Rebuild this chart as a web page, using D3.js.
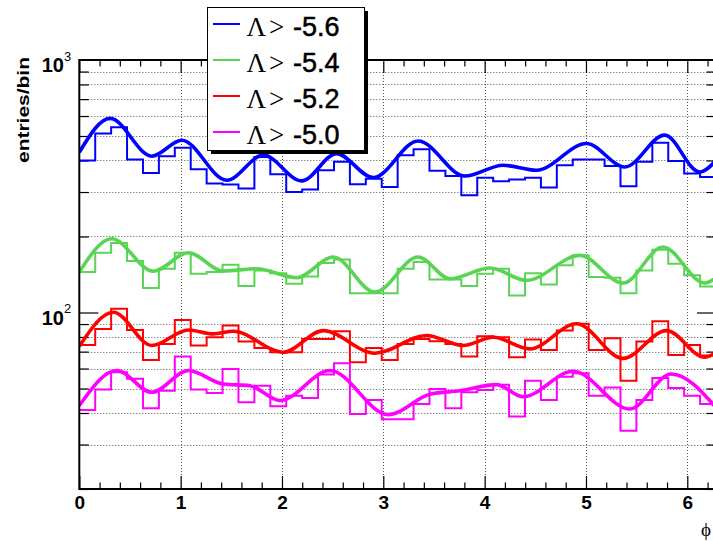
<!DOCTYPE html>
<html><head><meta charset="utf-8">
<script src="https://cdn.jsdelivr.net/npm/d3@7"></script>
<style>body{margin:0;background:#fff;} svg{display:block;}</style>
</head><body>
<svg id="c" width="713" height="541"></svg>
<script>
// ---- data ----
const nBins = 40;
const phiMax = 2 * Math.PI;
const xTickValues = [0, 1, 2, 3, 4, 5, 6];
const yLabelTicks = [100, 1000];
const seriesNames = ["Λ > -5.6", "Λ > -5.4", "Λ > -5.2", "Λ > -5.0"];
const seriesCuts = ["-5.6", "-5.4", "-5.2", "-5.0"];
const seriesColors = ["#0000ff", "#59d454", "#ff0000", "#ff00ff"];

const blueHist = [400,512,541,404,357,416,449,369,324,321,310,413,353,300,307,366,395,322,339,314,
                  420,443,364,347,291,342,331,336,342,313,383,404,404,380,316,395,470,398,355,344];
const greenHist = [144.6,172.5,188.5,159.8,124.9,149.1,172.5,142.4,144.6,154.6,127.2,146.8,143.2,130.0,139.0,157.0,162.3,119.3,119.3,119.3,
                   149.1,158.5,135.2,135.2,127.2,142.4,149.1,116.8,143.2,129.2,153.7,168.4,138.1,137.3,119.3,146.8,177.3,156.1,140.3,126.8];
const redHist = [74.4,86.1,103.4,85.3,64.9,75.1,93.5,74.0,79.8,88.8,76.7,72.4,69.6,69.6,78.6,78.6,84.3,63.5,72.4,64.9,
                 75.1,78.6,76.9,75.1,66.9,80.6,79.8,66.5,78.1,71.1,84.8,90.2,71.1,79.1,53.7,76.7,92.4,67.9,74.4,67.5];
const magHist = [41.1,49.5,58.0,54.6,41.8,49.0,66.9,49.5,48.0,59.8,44.1,51.3,42.5,46.8,45.9,56.8,62.9,39.6,45.0,37.8,
                 37.8,43.4,49.8,41.8,48.3,49.3,51.8,38.7,53.7,45.0,55.7,57.5,46.8,50.5,34.0,45.0,55.0,50.2,46.8,43.4];

const blueCurvePhi = [0,0.304,0.715,1.011,1.455,1.816,2.194,2.539,2.900,3.344,3.805,4.182,4.512,5.005,5.383,5.777,6.122,6.283];
const blueCurveVal = [431,587,416,481,334,420,332,426,342,478,347,383,366,467,377,504,360,400];
const greenCurvePhi = [0,0.320,0.731,1.076,1.42,1.75,2.145,2.506,2.917,3.344,3.657,4.051,4.413,4.939,5.366,5.760,6.172,6.283];
const greenCurveVal = [144.6,196,145.6,172.5,146,149,137.3,166,120.4,166,136,150,134,168.4,130.8,181.7,130.8,137];
const redCurvePhi = [0,0.336,0.715,1.076,1.323,1.52,2.013,2.407,2.917,3.427,3.788,4.084,4.446,4.906,5.366,5.794,6.172,6.283];
const redCurveVal = [73.5,100.3,74.0,85.3,82.3,84.3,69.6,84.8,69.0,81.1,74.0,79.8,71.8,90.2,65.8,84.8,66.5,69.5];
const magCurvePhi = [0,0.370,0.715,1.076,1.42,1.684,1.980,2.473,3.05,3.46,3.755,4.117,4.38,4.873,5.432,5.843,6.283];
const magCurveVal = [42.8,58.9,48.3,58.9,52.1,51.3,44.8,58.9,39.4,47.5,49.0,51.8,46.4,58.5,41.5,57.1,42];

const hists = [blueHist, greenHist, redHist, magHist];
const curves = [[blueCurvePhi, blueCurveVal],[greenCurvePhi, greenCurveVal],[redCurvePhi, redCurveVal],[magCurvePhi, magCurveVal]];

// ---- layout ----
const L = 79.3, R = 716, T = 60, B = 489;
const svg = d3.select("#c");
const x = d3.scaleLinear().domain([0, phiMax]).range([L, R]);
const y = d3.scaleLog().domain([20, 1000]).range([B, T]);

const yTicksAll = [];
[10, 100].forEach(d => { for (let k = 2; k <= 9; k++) { const v = d * k; if (v >= 20) yTicksAll.push(v); } });
const yMinor = yTicksAll.filter(v => v !== 100);
const yMajor = [100];
const xMinor = d3.range(0, 6.3, 0.2).filter(v => Math.abs(v - Math.round(v)) > 1e-6);

svg.append("defs").append("clipPath").attr("id", "clip")
  .append("rect").attr("x", L).attr("y", T).attr("width", R - L).attr("height", B - T);

// grid
const grid = svg.append("g").attr("stroke", "#555").attr("stroke-width", 1).attr("stroke-dasharray", "1,2");
grid.selectAll("line.v").data([1,2,3,4,5,6]).join("line")
  .attr("x1", d => Math.round(x(d)) + 0.5).attr("x2", d => Math.round(x(d)) + 0.5).attr("y1", T).attr("y2", B);
grid.selectAll("line.h").data(yTicksAll).join("line")
  .attr("y1", d => Math.round(y(d)) + 0.5).attr("y2", d => Math.round(y(d)) + 0.5).attr("x1", L).attr("x2", R);

// axes ticks
function styleAxis(g) { g.select(".domain").remove(); g.selectAll(".tick line").attr("stroke", "#000").attr("stroke-width", 1.2); }
svg.append("g").attr("transform", `translate(0,${B})`)
  .call(d3.axisBottom(x).tickValues(xTickValues).tickSizeInner(-13).tickSizeOuter(0).tickPadding(7).tickFormat(d3.format("d")))
  .call(styleAxis)
  .call(g => g.selectAll("text").attr("font-family", "Liberation Sans, Arial, sans-serif").attr("font-weight", "bold").attr("font-size", 19).attr("fill", "#000"));
svg.append("g").attr("transform", `translate(0,${B})`)
  .call(d3.axisBottom(x).tickValues(xMinor).tickSizeInner(-6.5).tickSizeOuter(0).tickFormat(""))
  .call(styleAxis);
svg.append("g").attr("transform", `translate(0,${T})`)
  .call(d3.axisTop(x).tickValues(xTickValues).tickSizeInner(-13).tickSizeOuter(0).tickFormat(""))
  .call(styleAxis);
svg.append("g").attr("transform", `translate(0,${T})`)
  .call(d3.axisTop(x).tickValues(xMinor).tickSizeInner(-6.5).tickSizeOuter(0).tickFormat(""))
  .call(styleAxis);
svg.append("g").attr("transform", `translate(${L},0)`)
  .call(d3.axisLeft(y).tickValues(yMajor).tickSizeInner(-19).tickSizeOuter(0).tickFormat(""))
  .call(styleAxis);
svg.append("g").attr("transform", `translate(${L},0)`)
  .call(d3.axisLeft(y).tickValues(yMinor).tickSizeInner(-9.5).tickSizeOuter(0).tickFormat(""))
  .call(styleAxis);
svg.append("g").attr("transform", `translate(${R},0)`)
  .call(d3.axisRight(y).tickValues(yMajor).tickSizeInner(-19).tickSizeOuter(0).tickFormat(""))
  .call(styleAxis);
svg.append("g").attr("transform", `translate(${R},0)`)
  .call(d3.axisRight(y).tickValues(yMinor).tickSizeInner(-9.5).tickSizeOuter(0).tickFormat(""))
  .call(styleAxis);

// y labels 10^n
yLabelTicks.forEach(v => {
  const yy = y(v);
  svg.append("text").attr("x", 64).attr("y", yy + 12).attr("text-anchor", "end")
    .attr("font-family", "Liberation Sans, Arial, sans-serif").attr("font-weight", "bold").attr("font-size", 20).text("10");
  svg.append("text").attr("x", 64).attr("y", yy + 0.5)
    .attr("font-family", "Liberation Sans, Arial, sans-serif").attr("font-size", 13).text(String(Math.round(Math.log10(v))));
});

// plot content
const plot = svg.append("g").attr("clip-path", "url(#clip)");
const binW = phiMax / nBins;
const stepLine = d3.line().x(d => x(d[0])).y(d => y(d[1])).curve(d3.curveStepAfter);
const smooth = d3.line().x(d => x(d[0])).y(d => y(d[1])).curve(d3.curveMonotoneX);
hists.forEach((h, i) => {
  const pts = h.map((v, k) => [k * binW, v]);
  pts.push([phiMax, h[h.length - 1]]);
  plot.append("path").attr("d", stepLine(pts)).attr("fill", "none")
    .attr("stroke", seriesColors[i]).attr("stroke-width", 2);
  const c = curves[i][0].map((p, k) => [p, curves[i][1][k]]);
  plot.append("path").attr("d", smooth(c)).attr("fill", "none")
    .attr("stroke", seriesColors[i]).attr("stroke-width", 3.6).attr("stroke-linejoin", "round");
});

// frame
svg.append("rect").attr("x", L).attr("y", T).attr("width", R - L).attr("height", B - T)
  .attr("fill", "none").attr("stroke", "#000").attr("stroke-width", 2);

// axis titles
svg.append("text").attr("transform", `translate(29,57) rotate(-90)`).attr("text-anchor", "end")
  .attr("font-family", "Liberation Sans, Arial, sans-serif").attr("font-weight", "bold").attr("font-size", 17)
  .attr("textLength", 106).attr("lengthAdjust", "spacingAndGlyphs").text("entries/bin");
svg.append("text").attr("x", 711).attr("y", 536).attr("text-anchor", "end")
  .attr("font-family", "Liberation Serif, Times New Roman, serif").attr("font-size", 19).text("ϕ");

// legend
const lg = svg.append("g");
lg.append("rect").attr("x", 211).attr("y", 11).attr("width", 157).attr("height", 143).attr("fill", "#000");
lg.append("rect").attr("x", 207.5).attr("y", 7.5).attr("width", 157).attr("height", 143)
  .attr("fill", "#fff").attr("stroke", "#000").attr("stroke-width", 1);
seriesNames.forEach((name, i) => {
  const ly = 24 + i * 36;
  lg.append("line").attr("x1", 213).attr("x2", 240).attr("y1", ly).attr("y2", ly)
    .attr("stroke", seriesColors[i]).attr("stroke-width", 2);
  const t = lg.append("text").attr("x", 246.5).attr("y", ly + 12).attr("font-size", 27).attr("fill", "#000");
  t.append("tspan").attr("font-family", "Liberation Serif, Times New Roman, serif").text("Λ");
  t.append("tspan").attr("font-family", "Liberation Serif, Times New Roman, serif").attr("x", 269).text(">");
  t.append("tspan").attr("font-family", "Liberation Sans, Arial, sans-serif").attr("x", 293)
    .attr("stroke", "#000").attr("stroke-width", 0.5).text(seriesCuts[i]);
});
</script>
</body></html>
